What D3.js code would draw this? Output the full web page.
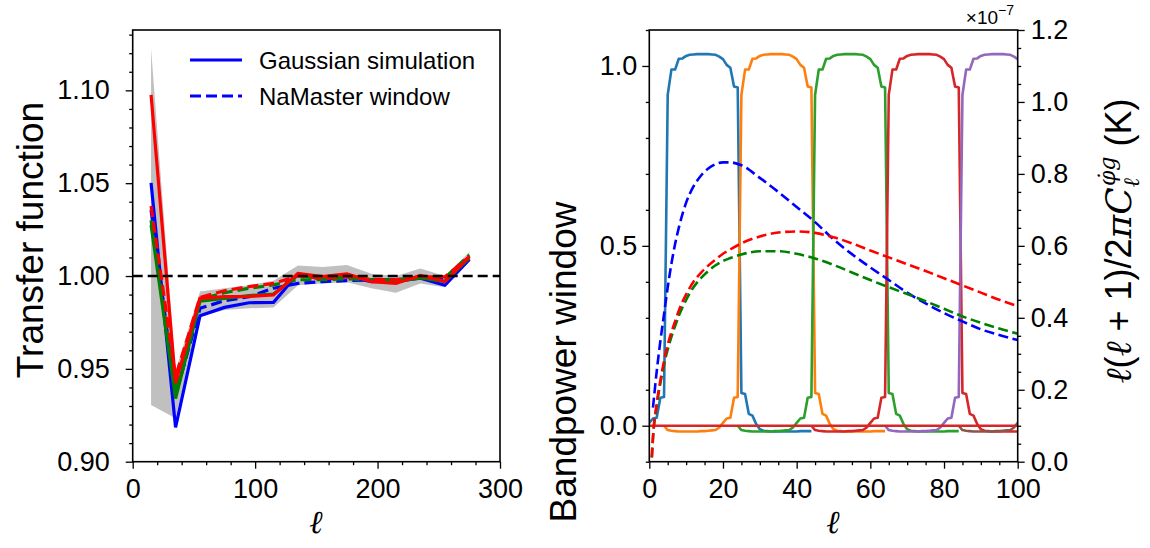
<!DOCTYPE html>
<html><head><meta charset="utf-8">
<script src="https://cdn.jsdelivr.net/npm/d3@7"></script>
<style>
body{margin:0;background:#fff}
svg{display:block}
text{font-family:"Liberation Sans",Arial,Helvetica,sans-serif;fill:#000}
</style>
</head><body>
<svg id="c" width="1150" height="548"></svg>
<script>
// ---------------- DATA ----------------
// Left panel: transfer function per bandpower bin
const binCenters = [15,35,55,75,95,115,135,155,175,195,215,235,255,275];
const blueSolid  = [1.0502,0.9185,0.9786,0.9831,0.9856,0.9858,1.0012,0.9982,0.9996,0.9970,0.9973,0.9988,0.9950,1.0090];
const blueDashed = [1.0355,0.9360,0.9826,0.9867,0.9889,0.9934,0.9960,0.9970,0.9975,0.9980,0.9980,0.9988,0.9980,1.0095];
const greenSolid = [1.0275,0.9340,0.9865,0.9880,0.9894,0.9903,1.0005,0.9985,1.0000,0.9975,0.9970,0.9990,0.9970,1.0098];
const greenDashed= [1.0300,0.9386,0.9875,0.9910,0.9934,0.9952,0.9980,0.9980,0.9985,0.9980,0.9980,0.9993,0.9990,1.0113];
const redSolid   = [1.0975,0.9424,0.9880,0.9889,0.9890,0.9898,1.0014,0.9997,1.0012,0.9970,0.9960,1.0003,0.9970,1.0104];
const redDashed  = [1.0377,0.9458,0.9885,0.9921,0.9943,0.9960,1.0000,0.9988,0.9996,0.9982,0.9980,0.9996,0.9996,1.0104];
const bandUpper  = [1.1226,0.9490,0.9916,0.9934,0.9950,0.9975,1.0057,1.0048,1.0060,1.0012,1.0000,1.0040,1.0000,1.0130];
const bandLower  = [0.9305,0.9234,0.9780,0.9817,0.9826,0.9830,0.9950,0.9960,0.9966,0.9934,0.9910,0.9960,0.9940,1.0077];
const legendLabels = ["Gaussian simulation","NaMaster window"];

// Right panel: bandpower windows (value at each integer ell, starting at windowStart)
const windowStart = [0,4,24,44,64,84];
const win0 = [0.008,0.020,0.022,0.078,0.080,
  0.92,0.99,0.99,1.02,1.021,1.028,1.031,1.032,1.033,1.033,1.033,1.033,1.032,1.031,1.026,1.019,1.003,0.995,0.943,0.94,
  0.091,0.088,0.033,0.028,0.005,-0.010,
  -0.014,-0.015,-0.016,-0.016,-0.016,-0.016,-0.016,-0.016,-0.016,-0.016,-0.015,-0.015,-0.015,-0.015];
const win1 = [0.0,
  -0.012,-0.014,-0.015,-0.016,-0.016,-0.016,-0.016,-0.016,-0.016,-0.015,-0.015,-0.014,-0.013,
  -0.012,-0.005,0.008,0.020,0.022,0.078,0.080,
  0.92,0.99,0.99,1.02,1.021,1.028,1.031,1.032,1.033,1.033,1.033,1.033,1.032,1.031,1.026,1.019,1.003,0.995,0.943,0.94,
  0.091,0.088,0.033,0.028,0.005,-0.010,
  -0.014,-0.015,-0.016,-0.016,-0.016,-0.016,-0.016,-0.016,-0.016,-0.016,-0.015,-0.015,-0.015,-0.015];
const win2 = [0.0,
  -0.012,-0.014,-0.015,-0.016,-0.016,-0.016,-0.016,-0.016,-0.016,-0.015,-0.015,-0.014,-0.013,
  -0.012,-0.005,0.008,0.020,0.022,0.078,0.080,
  0.92,0.99,0.99,1.02,1.021,1.028,1.031,1.032,1.033,1.033,1.033,1.033,1.032,1.031,1.026,1.019,1.003,0.995,0.943,0.94,
  0.091,0.088,0.033,0.028,0.005,-0.010,
  -0.014,-0.015,-0.016,-0.016,-0.016,-0.016,-0.016,-0.016,-0.016,-0.016,-0.015,-0.015,-0.015,-0.015];
const win3 = [0.0,
  -0.012,-0.014,-0.015,-0.016,-0.016,-0.016,-0.016,-0.016,-0.016,-0.015,-0.015,-0.014,-0.013,
  -0.012,-0.005,0.008,0.020,0.022,0.078,0.080,
  0.92,0.99,0.99,1.02,1.021,1.028,1.031,1.032,1.033,1.033,1.033,1.033,1.032,1.031,1.026,1.019,1.003,0.995,0.943,0.94,
  0.091,0.088,0.033,0.028,0.005,-0.010,
  -0.014,-0.015,-0.016,-0.016,-0.016,-0.016,-0.016,-0.016,-0.016,-0.016];
const win4 = [0.0,
  -0.012,-0.014,-0.015,-0.016,-0.016,-0.016,-0.016,-0.016,-0.016,-0.015,-0.015,-0.014,-0.013,
  -0.012,-0.005,0.008,0.020,0.022,0.078,0.080,
  0.92,0.99,0.99,1.02,1.021,1.028,1.031,1.032,1.033,1.033,1.033,1.033,1.032,1.031,1.026,1.019];
const win5 = [0.0,
  -0.012,-0.014,-0.015,-0.016,-0.016,-0.016,-0.016,-0.016,-0.016,-0.015,-0.015,-0.014,-0.013,
  -0.012,-0.005,0.008];
const windowColors = ["#1f77b4","#ff7f0e","#2ca02c","#d62728","#9467bd","#8c564b"];
const zeroWindowEll = [0,100];
const zeroWindowVal = [0,0];

// Right panel twin axis: l(l+1)/2pi C_l (units of 1e-7 K)
const spectrumEll = [0,1,2,3,4,5,6,7,8,10,12,14,16,18,20,22,25,30,35,40,45,50,55,60,65,70,75,80,85,90,95,100];
const specBlue  = [null,0.15,0.25,0.335,0.41,0.485,0.55,0.605,0.65,0.72,0.765,0.795,0.815,0.827,0.832,0.832,0.824,0.789,0.75,0.708,0.666,0.618,0.577,0.54,0.505,0.47,0.44,0.413,0.39,0.368,0.352,0.338];
const specRed   = [-0.15,0.07,0.16,0.225,0.28,0.325,0.36,0.39,0.42,0.465,0.50,0.525,0.545,0.562,0.578,0.59,0.607,0.626,0.637,0.64,0.636,0.624,0.607,0.587,0.568,0.549,0.53,0.51,0.49,0.47,0.45,0.432];
const specGreen = [-0.15,0.065,0.155,0.218,0.27,0.312,0.347,0.377,0.405,0.45,0.485,0.51,0.53,0.546,0.558,0.566,0.576,0.585,0.585,0.578,0.565,0.547,0.526,0.505,0.485,0.466,0.446,0.425,0.404,0.386,0.37,0.356];

// Tick values
const leftXTicks = [0,100,200,300];
const leftYTicks = [0.90,0.95,1.00,1.05,1.10];
const rightXTicks = [0,20,40,60,80,100];
const rightYTicks = [0.0,0.5,1.0];
const twinYTicks = [0.0,0.2,0.4,0.6,0.8,1.0,1.2];

// ---------------- LAYOUT ----------------
const svg = d3.select("#c");
const TOP = 30, BOT = 461.7;
const TICK_FS = 27;

const xL = d3.scaleLinear().domain([0,300]).range([132.7,500]);
const yL = d3.scaleLinear().domain([0.9,1.1325]).range([BOT,TOP]);
const xR = d3.scaleLinear().domain([0,100]).range([649.3,1017.7]);
const yR = d3.scaleLinear().domain([-0.1,1.1]).range([BOT,TOP]);
const yT = d3.scaleLinear().domain([0,1.2]).range([BOT,TOP]);

const defs = svg.append("defs");
defs.append("clipPath").attr("id","clipL").append("rect")
  .attr("x",xL.range()[0]).attr("y",TOP).attr("width",xL.range()[1]-xL.range()[0]).attr("height",BOT-TOP);
defs.append("clipPath").attr("id","clipR").append("rect")
  .attr("x",xR.range()[0]).attr("y",TOP).attr("width",xR.range()[1]-xR.range()[0]).attr("height",BOT-TOP);

function styleAxis(g, fs){
  g.select(".domain").remove();
  g.selectAll("line").attr("stroke","#000").attr("stroke-width",1.3);
  g.selectAll("text").style("font-size",fs+"px").attr("fill","#000");
}
function addAxis(gen, tx, ty, major, minor, fmt, pad){
  const g = svg.append("g").attr("transform",`translate(${tx},${ty})`)
    .call(gen().tickValues(major).tickSize(7).tickPadding(pad).tickFormat(fmt));
  styleAxis(g, TICK_FS);
  const g2 = svg.append("g").attr("transform",`translate(${tx},${ty})`)
    .call(gen().tickValues(minor).tickSize(3.5).tickFormat(""));
  styleAxis(g2, TICK_FS);
  return g;
}

// ---------------- LEFT PANEL ----------------
const gL = svg.append("g").attr("clip-path","url(#clipL)");
const band = binCenters.map((l,i)=>({l, lo:bandLower[i], hi:bandUpper[i]}));
gL.append("path").datum(band)
  .attr("d", d3.area().x(d=>xL(d.l)).y0(d=>yL(d.lo)).y1(d=>yL(d.hi)))
  .attr("fill","#c0c0c0").attr("stroke","none");

const lineL = d3.line().x(d=>xL(d[0])).y(d=>yL(d[1]));
const leftSeries = [
  [blueSolid,"#0000ff",null],
  [blueDashed,"#0000ff","11,5"],
  [greenSolid,"#008000",null],
  [greenDashed,"#008000","11,5"],
  [redSolid,"#ff0000",null],
  [redDashed,"#ff0000","11,5"]
];
leftSeries.forEach(([vals,col,dash])=>{
  gL.append("path").datum(binCenters.map((l,i)=>[l,vals[i]]))
    .attr("d",lineL).attr("fill","none").attr("stroke",col)
    .attr("stroke-width",3.2).attr("stroke-dasharray",dash);
});
gL.append("line").attr("x1",xL(0)).attr("x2",xL(300)).attr("y1",yL(1)).attr("y2",yL(1))
  .attr("stroke","#000").attr("stroke-width",2.6).attr("stroke-dasharray","10,5");

svg.append("rect").attr("x",xL.range()[0]).attr("y",TOP)
  .attr("width",xL.range()[1]-xL.range()[0]).attr("height",BOT-TOP)
  .attr("fill","none").attr("stroke","#000").attr("stroke-width",1.6);

addAxis(()=>d3.axisBottom(xL), 0, BOT, leftXTicks, d3.range(0,301,20).filter(v=>v%100), d3.format("d"), 10);
addAxis(()=>d3.axisLeft(yL), xL.range()[0], 0, leftYTicks, d3.range(90,114).map(v=>v/100).filter(v=>Math.round(v*100)%5), d3.format(".2f"), 16);

// legend
const lg = svg.append("g");
lg.append("line").attr("x1",190).attr("x2",242).attr("y1",60).attr("y2",60)
  .attr("stroke","#0000ff").attr("stroke-width",3);
lg.append("line").attr("x1",190).attr("x2",242).attr("y1",96).attr("y2",96)
  .attr("stroke","#0000ff").attr("stroke-width",3).attr("stroke-dasharray","11,5");
lg.append("text").attr("x",259).attr("y",69).style("font-size","24px").text(legendLabels[0]);
lg.append("text").attr("x",259).attr("y",105).style("font-size","24px").text(legendLabels[1]);

svg.append("text").attr("transform","translate(43,240) rotate(-90)")
  .attr("text-anchor","middle").style("font-size","37px").text("Transfer function");
svg.append("text").attr("x",316).attr("y",533).attr("text-anchor","middle")
  .style("font-family","'DejaVu Serif',serif").style("font-style","italic").style("font-size","32px").text("ℓ");

// ---------------- RIGHT PANEL ----------------
const gR = svg.append("g").attr("clip-path","url(#clipR)");
const lineR = d3.line().x(d=>xR(d[0])).y(d=>yR(d[1]));
[win0,win1,win2,win3,win4,win5].forEach((w,k)=>{
  const pts = w.map((v,i)=>[windowStart[k]+i, v]);
  gR.append("path").datum(pts).attr("d",lineR).attr("fill","none")
    .attr("stroke",windowColors[k]).attr("stroke-width",2.6).attr("stroke-linejoin","round");
});
gR.append("path").datum(zeroWindowEll.map((l,i)=>[l,zeroWindowVal[i]]))
  .attr("d",lineR).attr("fill","none").attr("stroke","#d62728").attr("stroke-width",2.6);

const lineT = d3.line().defined(d=>d[1]!==null).x(d=>xR(d[0])).y(d=>yT(d[1])).curve(d3.curveMonotoneX);
[[specBlue,"#0000ff"],[specGreen,"#008000"],[specRed,"#ff0000"]].forEach(([vals,col])=>{
  gR.append("path").datum(spectrumEll.map((l,i)=>[l,vals[i]]))
    .attr("d",lineT).attr("fill","none").attr("stroke",col)
    .attr("stroke-width",2.6).attr("stroke-dasharray","10,4.5");
});

svg.append("rect").attr("x",xR.range()[0]).attr("y",TOP)
  .attr("width",xR.range()[1]-xR.range()[0]).attr("height",BOT-TOP)
  .attr("fill","none").attr("stroke","#000").attr("stroke-width",1.6);

addAxis(()=>d3.axisBottom(xR), 0, BOT, rightXTicks, d3.range(0,101,5).filter(v=>v%20), d3.format("d"), 10);
addAxis(()=>d3.axisLeft(yR), xR.range()[0], 0, rightYTicks, d3.range(-1,12).map(v=>v/10).filter(v=>Math.round(v*10)%5), d3.format(".1f"), 5);
addAxis(()=>d3.axisRight(yT), xR.range()[1], 0, twinYTicks, d3.range(0,25).map(v=>v/20).filter(v=>Math.round(v*20)%4), d3.format(".1f"), 6);

svg.append("text").attr("transform","translate(576,362) rotate(-90)")
  .attr("text-anchor","middle").style("font-size","37px").text("Bandpower window");
svg.append("text").attr("x",833).attr("y",533).attr("text-anchor","middle")
  .style("font-family","'DejaVu Serif',serif").style("font-style","italic").style("font-size","32px").text("ℓ");

// offset text x10^-7
const off = svg.append("text").attr("x",1014).attr("y",24).attr("text-anchor","end").style("font-size","19px");
off.append("tspan").text("×10");
off.append("tspan").attr("dy",-9).style("font-size","14px").text("−7");

// twin y label
const mi = "'DejaVu Serif',serif";
const tl = svg.append("text").attr("transform","translate(1131,241) rotate(-90)")
  .attr("text-anchor","middle").style("font-size","36px");
tl.append("tspan").style("font-family",mi).style("font-style","italic").text("ℓ");
tl.append("tspan").text("(");
tl.append("tspan").style("font-family",mi).style("font-style","italic").text("ℓ");
tl.append("tspan").text(" + 1)/2");
tl.append("tspan").style("font-family",mi).style("font-style","italic").text("πC");
tl.append("tspan").attr("dy",8).style("font-family",mi).style("font-style","italic").style("font-size","22px").text("ℓ");
tl.append("tspan").attr("dx",-8).attr("dy",-24).style("font-family",mi).style("font-style","italic").style("font-size","22px").text("φ̇g");
tl.append("tspan").attr("dy",16).text(" (K)");
</script>
</body></html>
